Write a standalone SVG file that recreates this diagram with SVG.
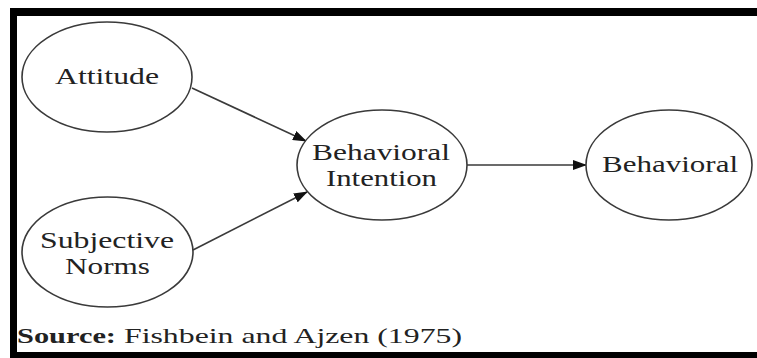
<svg xmlns="http://www.w3.org/2000/svg" width="757" height="358" viewBox="0 0 757 358">
<style>
.node ellipse{fill:#fff;stroke:#3a3a3a;stroke-width:1.6}
.lbl{font-family:"Liberation Serif","Times New Roman",serif;font-size:23px;fill:#222;text-anchor:start}
.edge{stroke:#3a3a3a;stroke-width:1.6;fill:none;marker-end:url(#ah)}
.src{font-family:"Liberation Serif","Times New Roman",serif;font-size:22px;fill:#222}
</style>
<defs>
<marker id="ah" markerWidth="14" markerHeight="10" refX="13" refY="5" orient="auto" markerUnits="userSpaceOnUse">
<path d="M0,0 L14,5 L0,10 Z" fill="#111"/>
</marker>
</defs>
<rect x="0" y="0" width="757" height="358" fill="#fff"/>
<g id="frame" fill="#000">
<rect x="10" y="8" width="747" height="8"/>
<rect x="10" y="8" width="7" height="350"/>
<rect x="10" y="352" width="747" height="6"/>
</g>
<g id="connectors">
<line class="edge" x1="192" y1="88" x2="306" y2="141"/>
<line class="edge" x1="193" y1="250" x2="307" y2="192"/>
<line class="edge" x1="467" y1="165" x2="586" y2="165"/>
</g>
<g id="attitude" class="node">
<ellipse cx="107" cy="77" rx="85" ry="55"/>
<text class="lbl" x="55" y="84" textLength="104" lengthAdjust="spacingAndGlyphs">Attitude</text>
</g>
<g id="subjective-norms" class="node">
<ellipse cx="107.5" cy="252" rx="85.5" ry="55"/>
<text class="lbl" x="40" y="248" textLength="134" lengthAdjust="spacingAndGlyphs">Subjective</text>
<text class="lbl" x="65" y="274" textLength="85" lengthAdjust="spacingAndGlyphs">Norms</text>
</g>
<g id="behavioral-intention" class="node">
<ellipse cx="382" cy="165" rx="85" ry="55"/>
<text class="lbl" x="312" y="160" textLength="138" lengthAdjust="spacingAndGlyphs">Behavioral</text>
<text class="lbl" x="326" y="186" textLength="111" lengthAdjust="spacingAndGlyphs">Intention</text>
</g>
<g id="behavioral" class="node">
<ellipse cx="669" cy="165" rx="83" ry="55"/>
<text class="lbl" x="602" y="172" textLength="136" lengthAdjust="spacingAndGlyphs">Behavioral</text>
</g>
<g id="source">
<text class="src" x="17" y="343" font-weight="bold" textLength="99" lengthAdjust="spacingAndGlyphs">Source:</text>
<text class="src" x="124" y="343" textLength="338" lengthAdjust="spacingAndGlyphs">Fishbein and Ajzen (1975)</text>
</g>
</svg>
